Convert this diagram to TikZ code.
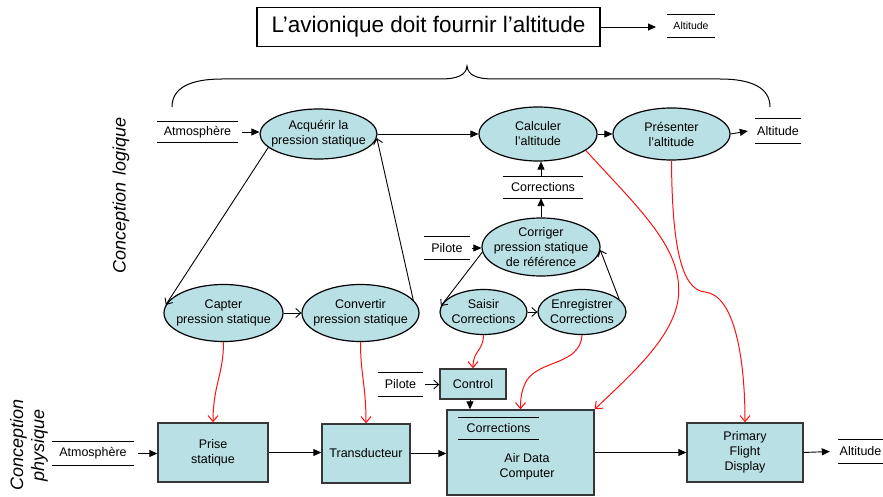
\documentclass[tikz,border=0pt]{standalone}
\usepackage{fontspec}
\setmainfont{Liberation Sans}
\usetikzlibrary{shapes.geometric,arrows.meta,calc}
\definecolor{tealfill}{RGB}{185,224,228}
\definecolor{boxline}{RGB}{55,55,55}
\definecolor{redline}{RGB}{255,15,15}
\begin{document}
\begin{tikzpicture}[x=1pt,y=-1pt,
  txt/.style={font=\fontsize{12.5}{15}\selectfont, align=center, inner sep=0pt},
  ell/.style={ellipse, draw=black, line width=1.2pt, fill=tealfill, inner sep=0pt},
  box/.style={rectangle, draw=boxline, line width=1.4pt, fill=tealfill, inner sep=0pt, align=center, font=\fontsize{12.5}{15}\selectfont},
  store/.style={inner sep=0pt, font=\fontsize{12.5}{15}\selectfont},
  fa/.style={-{Triangle[length=8pt,width=7pt]}, line width=0.9pt},
  oa/.style={-{Straight Barb[length=5pt,width=9pt]}, line width=0.9pt},
  ra/.style={-{Straight Barb[length=6pt,width=10pt]}, line width=1pt, draw=redline},
]
\useasboundingbox (0,0) rectangle (883,497);

% title
\node[rectangle, draw=black, line width=1.3pt, minimum width=343pt, minimum height=39pt, inner sep=0pt,
      font=\fontsize{22.5}{26}\selectfont] (title) at (428.5,27) {L’avionique doit fournir l’altitude};
\node[store, minimum width=47pt, minimum height=22pt, font=\fontsize{10.5}{12}\selectfont] (altT) at (691,26) {Altitude};
\coordinate (altTin) at (656,27);
\draw[fa] (title.east) -- (altTin);

% brace
\draw[line width=1pt] (172,107) .. controls (172,88) and (190,79) .. (222,79) -- (440,79)
  .. controls (458,79) and (466,75) .. (467,66)
  .. controls (468,75) and (476,79) .. (494,79) -- (720,79)
  .. controls (752,79) and (770,88) .. (770,107);

% side labels
\node[rotate=90, inner sep=0pt, font=\fontsize{18}{21}\selectfont\itshape] (clog) at (121,195) {Conception\hspace{7pt}logique};
\node[rotate=90, inner sep=0pt, align=center, font=\fontsize{18}{21}\selectfont\itshape] (cphy) at (29,445) {Conception\\physique};

% ellipses (logical design)
\node[ell, minimum width=117pt, minimum height=50pt, label={[txt]center:{Acquérir la\\pression statique}}] (acq) at (318.5,134) {};
\node[ell, minimum width=118pt, minimum height=54pt, label={[txt]center:{Calculer\\l’altitude}}] (calc) at (538,134) {};
\node[ell, minimum width=117pt, minimum height=52pt, label={[txt]center:{Présenter\\l’altitude}}] (pres) at (671.5,134) {};
\node[ell, minimum width=118pt, minimum height=58pt, label={[txt]center:{Corriger\\pression statique\\de référence}}] (corr) at (541,247) {};
\node[ell, minimum width=119pt, minimum height=57pt, label={[txt]center:{Capter\\pression statique}}] (capt) at (223.5,313) {};
\node[ell, minimum width=117pt, minimum height=57pt, label={[txt]center:{Convertir\\pression statique}}] (conv) at (360.5,313) {};
\node[ell, minimum width=87pt, minimum height=45pt, label={[txt]center:{Saisir\\Corrections}}] (sais) at (483.5,312) {};
\node[ell, minimum width=88pt, minimum height=45pt, label={[txt]center:{Enregistrer\\Corrections}}] (enre) at (582,312) {};

% stores
\node[store, minimum width=81pt, minimum height=21pt] (atmT) at (197.5,132) {Atmosphère};
\node[store, minimum width=46pt, minimum height=25pt] (altR) at (778,131) {Altitude};
\node[store, minimum width=80pt, minimum height=21pt] (corrM) at (543,187.5) {Corrections};
\node[store, minimum width=46pt, minimum height=23pt] (pil1) at (447,248) {Pilote};
\node[store, minimum width=45pt, minimum height=23pt] (pil2) at (400.5,384.5) {Pilote};
\node[store, minimum width=82pt, minimum height=23pt] (atmB) at (93,453.5) {Atmosphère};
\node[store, minimum width=45pt, minimum height=24pt] (altB) at (860.5,451.5) {Altitude};

% boxes (physical design)
\node[box, minimum width=110pt, minimum height=59pt] (prise) at (213,452.5) {Prise\\statique};
\node[box, minimum width=88pt, minimum height=59pt] (trans) at (366,453.5) {Transducteur};
\node[box, minimum width=66pt, minimum height=30pt] (ctrl) at (473,384) {Control};
\node[box, minimum width=147pt, minimum height=85pt] (adc) at (520.5,452.5) {};
\node[txt] (adctxt) at (527,467) {Air Data\\Computer};
\node[store, minimum width=81pt, minimum height=21pt] (corrA) at (498.5,428.5) {Corrections};
\node[box, minimum width=116pt, minimum height=59pt] (pfd) at (745,452.5) {Primary\\Flight\\Display};

\foreach \s in {altT,atmT,altR,corrM,pil1,pil2,atmB,altB,corrA}
  \draw[line width=0.9pt] (\s.north west) -- (\s.north east) (\s.south west) -- (\s.south east);

% black arrows, logical
\draw[fa] ([xshift=4pt]atmT.east) -- (atmT.east -| acq.west);
\draw[fa] (acq.east) -- (calc.west);
\draw[fa] (calc.east) -- (pres.west);
\draw[fa] (pres.east) -- ([xshift=-7pt]altR.west);
\draw[oa] (acq.195) -- (capt.172);
\draw[oa] (capt.east) -- (conv.west);
\draw[oa] (conv.14) -- (acq.-4);
\draw[fa] (corr.north) -- (corr.north |- corrM.south);
\draw[fa] (corr.north |- corrM.north) -- (corr.north |- calc.south);
\draw[fa] ([xshift=2pt]pil1.east) -- (pil1.east -| corr.west);
\draw[oa] (corr.185) -- (sais.172);
\draw[oa] (sais.east) -- (enre.west);
\draw[oa] (enre.19) -- (corr.-3);

% black arrows, physical
\draw[fa] ([xshift=4pt]atmB.east) -- (atmB.east -| prise.west);
\draw[fa] (prise.east) -- (prise.east -| trans.west);
\draw[fa] (trans.east) -- (trans.east -| adc.west);
\draw[fa] (adc.east) -- (adc.east -| pfd.west);
\draw[fa] (pfd.east) -- ([xshift=-8pt]altB.west);
\draw[oa] ([xshift=2pt]pil2.east) -- (pil2.east -| ctrl.west);
\draw[fa] ([xshift=-3pt]ctrl.south) -- ([xshift=-3pt]ctrl.south |- adc.north);

% red allocation arrows
\draw[ra] (capt.south) .. controls (223.5,375) and (213,385) .. (prise.north);
\draw[ra] (conv.south) .. controls (360.5,375) and (366,385) .. (trans.north);
\draw[ra] (sais.south) .. controls (483,352) and (473,350) .. (ctrl.north);
\draw[ra] (enre.south) .. controls (580,365) and (540,360) .. (527,380) .. controls (521,390) and (520.5,400) .. (adc.north);
\draw[ra] (calc.-19) .. controls (640,210) and (685,250) .. (678,300) .. controls (672,340) and (625,380) .. (adc.north east);
\draw[ra] (pres.south) .. controls (672,240) and (680,290) .. (705,292) .. controls (735,295) and (745,360) .. (pfd.north);
\end{tikzpicture}
\end{document}
